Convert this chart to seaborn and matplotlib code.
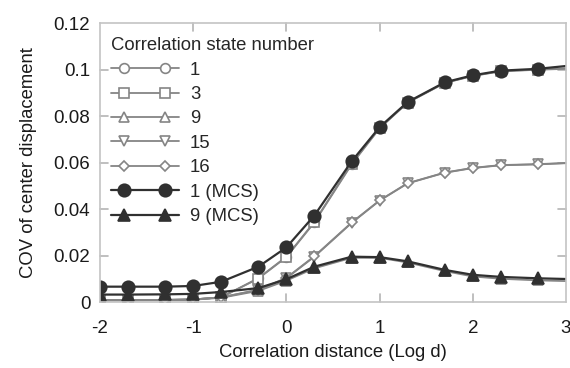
import numpy as np
import pandas as pd
import matplotlib
matplotlib.use('Agg')
import matplotlib.pyplot as plt
from matplotlib.ticker import FormatStrFormatter
from matplotlib.legend_handler import HandlerLine2D
from matplotlib.lines import Line2D
import seaborn as sns

# Data
log_d = [-2, -1.7, -1.3, -1, -0.7, -0.3, 0, 0.3, 0.7, 1, 1.3, 1.7, 2, 2.3, 2.7, 3]

cov_state1 = [0.0008, 0.0008, 0.0009, 0.0011, 0.0020, 0.0103, 0.0195, 0.0345, 0.0595, 0.0748, 0.0858, 0.0943, 0.0973, 0.0993, 0.1000, 0.1005]
cov_state3 = [0.0008, 0.0008, 0.0009, 0.0011, 0.0020, 0.0101, 0.0193, 0.0342, 0.0592, 0.0747, 0.0857, 0.0942, 0.0972, 0.0992, 0.0999, 0.1003]
cov_state9 = [0.0007, 0.0007, 0.0008, 0.0010, 0.0018, 0.0048, 0.0092, 0.0145, 0.0190, 0.0190, 0.0170, 0.0133, 0.0110, 0.0100, 0.0093, 0.0090]
cov_state15 = [0.0008, 0.0008, 0.0009, 0.0011, 0.0020, 0.0052, 0.0102, 0.0195, 0.0340, 0.0436, 0.0510, 0.0556, 0.0576, 0.0588, 0.0592, 0.0597]
cov_state16 = [0.0008, 0.0008, 0.0009, 0.0011, 0.0020, 0.0053, 0.0104, 0.0197, 0.0342, 0.0437, 0.0511, 0.0557, 0.0577, 0.0589, 0.0593, 0.0598]
cov_mcs1 = [0.0066, 0.0066, 0.0066, 0.0069, 0.0087, 0.0152, 0.0235, 0.0372, 0.0605, 0.0752, 0.0860, 0.0945, 0.0975, 0.0995, 0.1003, 0.1015]
cov_mcs9 = [0.0032, 0.0032, 0.0033, 0.0035, 0.0043, 0.0060, 0.0098, 0.0152, 0.0195, 0.0193, 0.0175, 0.0138, 0.0117, 0.0108, 0.0102, 0.0099]

series_labels = ['1', '3', '9', '15', '16', '1 (MCS)', '9 (MCS)']
series_values = [cov_state1, cov_state3, cov_state9, cov_state15, cov_state16, cov_mcs1, cov_mcs9]

sns.set_style('white')
plt.rcParams['font.family'] = ['Liberation Sans', 'DejaVu Sans']
plt.rcParams['axes.unicode_minus'] = False

gray = '#858585'
dark = '#303030'
styles = {
    '1': dict(marker='o', color=gray, mfc='white', mec=gray, ms=7),
    '3': dict(marker='s', color=gray, mfc='white', mec=gray, ms=6.5),
    '9': dict(marker='^', color=gray, mfc='white', mec=gray, ms=7),
    '15': dict(marker='v', color=gray, mfc='white', mec=gray, ms=7),
    '16': dict(marker='D', color=gray, mfc='white', mec=gray, ms=5),
    '1 (MCS)': dict(marker='o', color=dark, mfc=dark, mec=dark, ms=9),
    '9 (MCS)': dict(marker='^', color=dark, mfc=dark, mec=dark, ms=9),
}


class PaddedLine(HandlerLine2D):
    # full-length line with the two markers set in from the ends
    def create_artists(self, legend, orig_handle, xdescent, ydescent,
                       width, height, fontsize, trans):
        y = (height - ydescent) / 2
        line = Line2D([-xdescent, -xdescent + width], [y, y])
        self.update_prop(line, orig_handle, legend)
        line.set_marker('')
        pad = 0.75 * fontsize
        mk = Line2D([-xdescent + pad, -xdescent + width - pad], [y, y])
        self.update_prop(mk, orig_handle, legend)
        mk.set_linestyle('')
        line.set_transform(trans)
        mk.set_transform(trans)
        return [line, mk]


df = pd.DataFrame({
    'logd': np.tile(log_d, len(series_labels)),
    'cov': np.concatenate(series_values),
    'series': np.repeat(series_labels, len(log_d)),
})

fig = plt.figure(figsize=(5.7, 3.68), dpi=100)
ax = fig.add_axes([0.1754, 0.1793, 0.8176, 0.7582])

for name in series_labels:
    st = styles[name]
    sub = df[df['series'] == name]
    sns.lineplot(data=sub, x='logd', y='cov', ax=ax, label=name,
                 color=st['color'], marker=st['marker'], markersize=st['ms'],
                 markerfacecolor=st['mfc'], markeredgecolor=st['mec'],
                 markeredgewidth=1.2, linewidth=1.6 if 'MCS' in name else 1.3,
                 markevery=list(range(len(log_d) - 1)), errorbar=None)

ax.set_xlim(-2, 3)
ax.set_ylim(0, 0.12)
ax.set_xticks([-2, -1, 0, 1, 2, 3])
ax.set_yticks(np.arange(0, 0.121, 0.02))
ax.yaxis.set_major_formatter(FormatStrFormatter('%g'))
ax.tick_params(direction='in', length=0, labelsize=13.5, labelcolor='#1a1a1a')
ax.tick_params(axis='x', pad=13)
ax.tick_params(axis='y', pad=7)
for sp in ax.spines.values():
    sp.set_color('#c4c4c4')
    sp.set_linewidth(1.2)

# inward tick marks on all four sides, drawn as short segments in axes coords
tick_len = 8 / (0.7582 * 368)
tick_len_x = 8 / (0.8176 * 570)
for xv in ax.get_xticks()[1:-1]:
    ax.plot([xv, xv], [0, tick_len], transform=ax.get_xaxis_transform(),
            color='#b4b4b4', lw=1.2, zorder=0.5, clip_on=False)
    ax.plot([xv, xv], [1 - tick_len, 1], transform=ax.get_xaxis_transform(),
            color='#b4b4b4', lw=1.2, zorder=0.5, clip_on=False)
for yv in ax.get_yticks()[1:-1]:
    ax.plot([0, tick_len_x], [yv, yv], transform=ax.get_yaxis_transform(),
            color='#b4b4b4', lw=1.2, zorder=0.5, clip_on=False)
    ax.plot([1 - tick_len_x, 1], [yv, yv], transform=ax.get_yaxis_transform(),
            color='#b4b4b4', lw=1.2, zorder=0.5, clip_on=False)

ax.set_xlabel('Correlation distance (Log d)', fontsize=13.3, color='#1a1a1a', labelpad=5)
ax.set_ylabel('COV of center displacement', fontsize=13.3, color='#1a1a1a', labelpad=12)

handles, labels = ax.get_legend_handles_labels()
handles, labels = handles[:len(series_labels)], labels[:len(series_labels)]
leg = ax.legend(handles, labels, title='Correlation state number', loc='upper left',
                frameon=False, numpoints=2, handlelength=3.7, fontsize=13.3,
                title_fontsize=13.3, labelspacing=0.4, handletextpad=0.6,
                borderaxespad=0.3, bbox_to_anchor=(-0.005, 0.995),
                handler_map={h: PaddedLine() for h in handles})
leg._legend_box.align = 'left'

fig.savefig('out.png', dpi=100)
